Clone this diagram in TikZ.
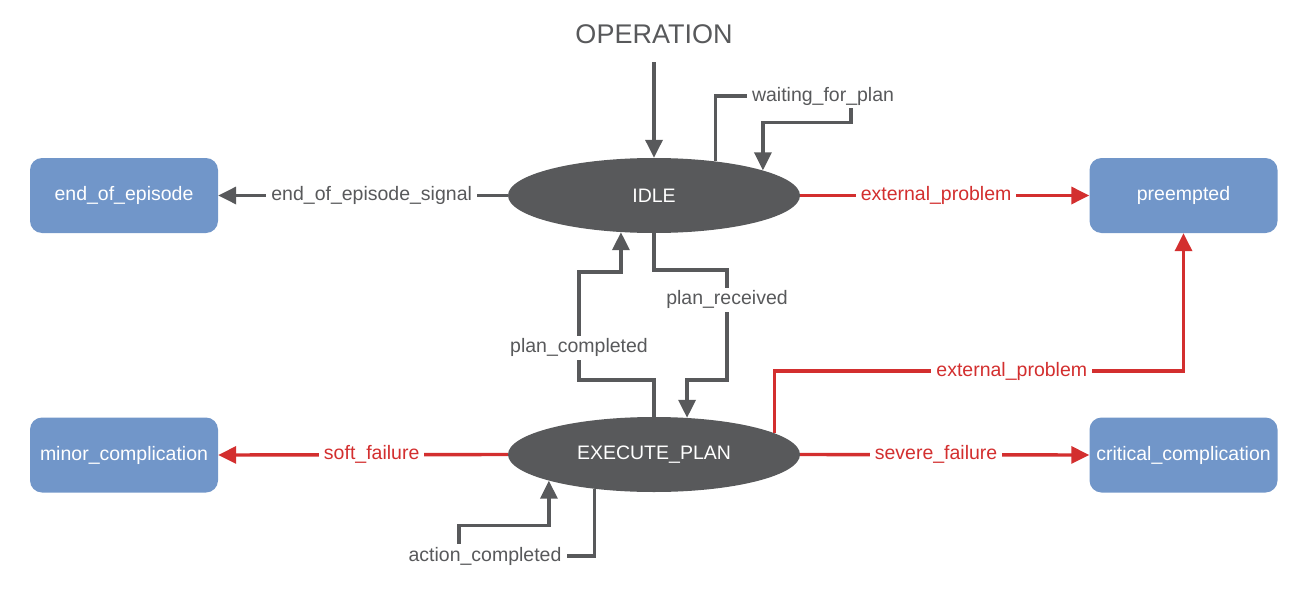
\documentclass[tikz,border=0pt]{standalone}
\usepackage{fontspec}
\setmainfont{Liberation Sans}
\usetikzlibrary{positioning, arrows.meta, shapes.geometric}
\definecolor{stategray}{RGB}{88, 89, 91}
\definecolor{failred}{RGB}{211, 47, 47}
\definecolor{outblue}{RGB}{113, 150, 201}

\tikzset{
    stateell/.style={ellipse, fill=stategray, text=white, minimum width=292pt,
                     minimum height=75pt, inner sep=0pt, font=\fontsize{19.5}{23}\selectfont},
    outbox/.style={rounded corners=12pt, fill=outblue, text=white, minimum width=188pt,
                   minimum height=75pt, inner sep=0pt, font=\fontsize{19.5}{23}\selectfont},
    lbl/.style={fill=white, inner xsep=5pt, inner ysep=3pt, text=stategray,
                font=\fontsize{19.5}{23}\selectfont},
    flow/.style={draw=stategray, line width=3.4pt, -{Triangle[length=18pt, width=17pt]}},
    fail/.style={draw=failred, line width=3.4pt, -{Triangle[length=18pt, width=17pt]}},
}

\begin{document}
\begin{tikzpicture}[x=1pt, y=-1pt]
    \useasboundingbox (0,0) rectangle (1310,589);

    % states and outcomes
    \node[text=stategray, font=\fontsize{27}{32}\selectfont] (op) at (654,34) {OPERATION};
    \node[stateell] (idle) at (654,195.5) {IDLE};
    \node[stateell] (exec) at (654,454.5) {EXECUTE\_PLAN};
    \node[outbox] (eoe) at (124,195.5) {end\_of\_episode};
    \node[outbox] (minor) at (124,455) {minor\_complication};
    \node[outbox] (pre) at (1183.5,195.5) {preempted};
    \node[outbox] (crit) at (1183.5,455) {critical\_complication};

    % self-loop labels
    \node[lbl] (wfp) at (823,96) {waiting\_for\_plan};
    \node[lbl] (ac) at (485,556) {action\_completed};

    % transitions from IDLE
    \draw[flow] ([yshift=-15pt]op.south) -- (idle.north);
    \draw[flow, -] (idle.29) |- (wfp.west);
    \draw[flow] ([xshift=28pt]wfp.south) -- ++(0,14) -| (idle.13.7);
    \draw[flow] (idle.west) -- node[lbl, pos=0.47] {end\_of\_episode\_signal} (eoe.east);
    \draw[fail] (idle.east) -- node[lbl, pos=0.47, text=failred] {external\_problem} (pre.west);
    \draw[flow] (idle.south) |- (727,270) -- node[lbl, pos=0.27] {plan\_received} (727,380) -| (exec.48);

    % transitions from EXECUTE_PLAN
    \draw[flow] (exec.north) |- (579,380) -- node[lbl, pos=0.3] {plan\_completed} (579,272) -| (idle.228);
    \draw[fail] (exec.10) |- node[lbl, pos=0.79, text=failred] {external\_problem} (pre.south |- 0,371) -- (pre.south);
    \draw[fail] (exec.west) -- node[lbl, pos=0.47, text=failred] {soft\_failure} (minor.east);
    \draw[fail] (exec.east) -- node[lbl, pos=0.47, text=failred] {severe\_failure} (crit.west);
    \draw[flow, -] (exec.210) |- (ac.east);
    \draw[flow] ([xshift=-26pt]ac.north) -- ++(0,-18) -| (exec.194);
\end{tikzpicture}
\end{document}
